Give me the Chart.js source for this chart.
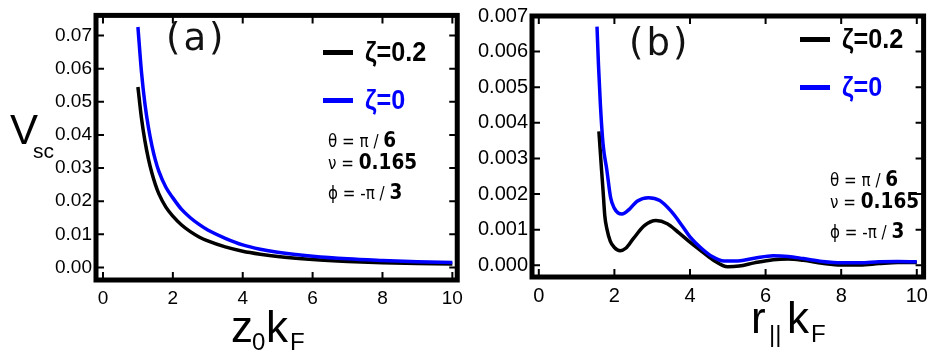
<!DOCTYPE html>
<html lang="en">
<head>
<meta charset="UTF-8">
<title>V_sc versus z0kF and r||kF</title>
<script src="https://cdn.jsdelivr.net/npm/chart.js"></script>
<style>
  body { margin: 0; background: #fff; }
  #wrap { position: relative; width: 935px; height: 356px; overflow: hidden; font-family: "Liberation Sans", Arial, sans-serif; color: #000; }
  canvas { position: absolute; top: 0; }
  .t { position: absolute; line-height: 1; white-space: nowrap; }
  .panel { font-family: "DejaVu Sans", sans-serif; font-size: 37px; letter-spacing: 3px; color: #111; }
  .leg { font-weight: bold; font-size: 28px; transform: scaleX(0.9); transform-origin: 0 0; }
  .swatch { position: absolute; width: 30px; height: 5px; }
  .par { font-family: "DejaVu Sans", sans-serif; font-size: 18px; transform: scaleX(0.84); transform-origin: 0 0; }
  .par b { font-size: 22px; }
</style>
</head>
<body>
<div id="wrap">
  <canvas id="chartA" width="470" height="356" style="left:0"></canvas>
  <canvas id="chartB" width="465" height="356" style="left:470px"></canvas>

  <!-- axis titles -->
  <div class="t" style="left:10px;top:109px;font-size:42px">V</div>
  <div class="t" style="left:33px;top:140px;font-size:21px">sc</div>
  <div class="t" style="left:231px;top:305px;font-size:44px">z</div>
  <div class="t" style="left:252px;top:330px;font-size:24px">0</div>
  <div class="t" style="left:266px;top:305px;font-size:44px">k</div>
  <div class="t" style="left:290px;top:330px;font-size:24px">F</div>
  <div class="t" style="left:751px;top:296px;font-size:44px">r</div>
  <div class="t" style="left:769px;top:322px;font-size:24px">||</div>
  <div class="t" style="left:787px;top:296px;font-size:44px">k</div>
  <div class="t" style="left:811px;top:322px;font-size:24px">F</div>

  <!-- panel labels -->
  <div class="t panel" style="left:166px;top:19px">(a)</div>
  <div class="t panel" style="left:629px;top:24px">(b)</div>

  <!-- legends -->
  <div class="swatch" style="left:323px;top:50px;background:#000"></div>
  <div class="t leg" style="left:365px;top:38px">ζ=0.2</div>
  <div class="swatch" style="left:323px;top:98px;background:#0000ff"></div>
  <div class="t leg" style="left:365px;top:86px;color:#0000ff">ζ=0</div>

  <div class="swatch" style="left:800px;top:37px;background:#000"></div>
  <div class="t leg" style="left:842px;top:25px">ζ=0.2</div>
  <div class="swatch" style="left:800px;top:85px;background:#0000ff"></div>
  <div class="t leg" style="left:842px;top:73px;color:#0000ff">ζ=0</div>

  <!-- parameters -->
  <div class="t par" style="left:328px;top:129px">θ = π / <b>6</b></div>
  <div class="t par" style="left:328px;top:151px">ν = <b>0.165</b></div>
  <div class="t par" style="left:328px;top:181px">ϕ = -π / <b>3</b></div>

  <div class="t par" style="left:830px;top:168px">θ = π / <b>6</b></div>
  <div class="t par" style="left:830px;top:190px">ν = <b>0.165</b></div>
  <div class="t par" style="left:830px;top:220px">ϕ = -π / <b>3</b></div>
</div>

<script>
// panel (a): V_sc against z0 kF
var zGrid    = [1.0, 1.1, 1.2, 1.3, 1.4, 1.5, 1.6, 1.8, 2.0, 2.25, 2.5, 2.75, 3.0, 3.5, 4.0, 4.5, 5.0, 6.0, 7.0, 8.0, 9.0, 10.0];
var vZeta02A = [0.0545, 0.0452, 0.0382, 0.0328, 0.0285, 0.0250, 0.0222, 0.0182, 0.0155, 0.0128, 0.0108, 0.0092, 0.0080, 0.0062, 0.0049, 0.0040, 0.0033, 0.0024, 0.0018, 0.0014, 0.0012, 0.0010];
var vZeta0A  = [0.0726, 0.0592, 0.0494, 0.0423, 0.0368, 0.0324, 0.0290, 0.0242, 0.0210, 0.0175, 0.0150, 0.0130, 0.0113, 0.0088, 0.0068, 0.0055, 0.0046, 0.0034, 0.0026, 0.0021, 0.0017, 0.0015];

// panel (b): V_sc against r|| kF
var rBlack   = [1.59, 1.62, 1.66, 1.70, 1.745, 1.80, 1.89, 2.00, 2.15, 2.30, 2.50, 2.80, 3.10, 3.40, 3.70, 4.00, 4.30, 4.60, 5.00, 5.30, 5.70, 6.20, 6.60, 7.00, 7.50, 8.00, 8.50, 9.00, 9.50, 10.0];
var vZeta02B = [0.00376, 0.0033, 0.00268, 0.0021, 0.00140, 0.00103, 0.00068, 0.00050, 0.00041, 0.00048, 0.00075, 0.00112, 0.00126, 0.00117, 0.00092, 0.00065, 0.00040, 0.00016, -0.00004, -0.00002, 0.00007, 0.00016, 0.00018, 0.00014, 0.00006, 0.00001, 0.00001, 0.00005, 0.00008, 0.00008];
var rBlue    = [1.54, 1.58, 1.63, 1.70, 1.80, 1.90, 2.00, 2.10, 2.20, 2.40, 2.60, 2.90, 3.20, 3.50, 3.80, 4.00, 4.30, 4.60, 4.90, 5.20, 5.70, 6.20, 6.60, 7.00, 7.50, 8.00, 8.50, 9.00, 9.50, 10.0];
var vZeta0B  = [0.0067, 0.0056, 0.0045, 0.0034, 0.00268, 0.0019, 0.0016, 0.00147, 0.00144, 0.00158, 0.0018, 0.0019, 0.00182, 0.00152, 0.0011, 0.0008, 0.00048, 0.00024, 0.00012, 0.00012, 0.0002, 0.00027, 0.00025, 0.00019, 0.00011, 0.00007, 0.00007, 0.0001, 0.00011, 0.0001];

var xTicks  = [0, 2, 4, 6, 8, 10];
var yTicksA = [0, 0.01, 0.02, 0.03, 0.04, 0.05, 0.06, 0.07];
var yTicksB = [0, 0.001, 0.002, 0.003, 0.004, 0.005, 0.006, 0.007];

function pts(xs, ys) {
  return xs.map(function (x, i) { return { x: x, y: ys[i] }; });
}

// thick frame with small inward ticks, like the original
var framePlugin = {
  id: 'frame',
  afterDatasetsDraw: function (chart) {
    var a = chart.chartArea, ctx = chart.ctx;
    var xs = chart.scales.x, ys = chart.scales.y;
    ctx.save();
    ctx.strokeStyle = '#000';
    ctx.lineWidth = 2;
    ctx.beginPath();
    xs.ticks.forEach(function (t) {
      var p = xs.getPixelForValue(t.value);
      ctx.moveTo(p, a.bottom); ctx.lineTo(p, a.bottom - 8);
      ctx.moveTo(p, a.top); ctx.lineTo(p, a.top + 8);
    });
    ys.ticks.forEach(function (t) {
      var p = ys.getPixelForValue(t.value);
      ctx.moveTo(a.left, p); ctx.lineTo(a.left + 8, p);
      ctx.moveTo(a.right, p); ctx.lineTo(a.right - 8, p);
    });
    ctx.stroke();
    ctx.lineWidth = 5;
    ctx.strokeRect(a.left, a.top, a.right - a.left, a.bottom - a.top);
    ctx.restore();
  }
};

function makeChart(id, black, blue, o) {
  return new Chart(document.getElementById(id), {
    type: 'scatter',
    data: {
      datasets: [
        { label: 'ζ=0', data: blue, showLine: true, borderColor: '#0000ff', borderWidth: 3.5, pointRadius: 0, cubicInterpolationMode: 'monotone' },
        { label: 'ζ=0.2', data: black, showLine: true, borderColor: '#000000', borderWidth: 3.5, pointRadius: 0, cubicInterpolationMode: 'monotone' }
      ]
    },
    options: {
      responsive: false,
      animation: false,
      layout: { padding: o.pad },
      plugins: { legend: { display: false }, tooltip: { enabled: false } },
      scales: {
        x: {
          type: 'linear', min: o.xMin, max: o.xMax,
          grid: { display: false, drawTicks: false },
          border: { display: false },
          afterFit: function (s) { s.height = o.xH; },
          afterBuildTicks: function (s) { s.ticks = xTicks.map(function (v) { return { value: v }; }); },
          ticks: { color: '#000', padding: 7, font: { family: 'Liberation Sans', size: o.fs }, maxRotation: 0 }
        },
        y: {
          type: 'linear', min: o.yMin, max: o.yMax,
          grid: { display: false, drawTicks: false },
          border: { display: false },
          afterFit: function (s) { s.width = o.yW; },
          afterBuildTicks: function (s) { s.ticks = o.yTicks.map(function (v) { return { value: v }; }); },
          ticks: {
            color: '#000', padding: 4, font: { family: 'Liberation Sans', size: o.fs },
            callback: function (v) { return v.toFixed(o.dec); }
          }
        }
      }
    },
    plugins: [framePlugin]
  });
}

makeChart('chartA', pts(zGrid, vZeta02A), pts(zGrid, vZeta0A), {
  pad: { left: 0, top: 6, right: 6, bottom: 0 }, xH: 76, yW: 96, fs: 19,
  xMin: -0.2, xMax: 10.14, yMin: -0.0038, yMax: 0.0761, yTicks: yTicksA, dec: 2
});

makeChart('chartB', pts(rBlack, vZeta02B), pts(rBlue, vZeta0B), {
  pad: { left: 0, top: 8, right: 5, bottom: 0 }, xH: 79, yW: 62, fs: 20,
  xMin: -0.18, xMax: 10.18, yMin: -0.000327, yMax: 0.007, yTicks: yTicksB, dec: 3
});
</script>
</body>
</html>
